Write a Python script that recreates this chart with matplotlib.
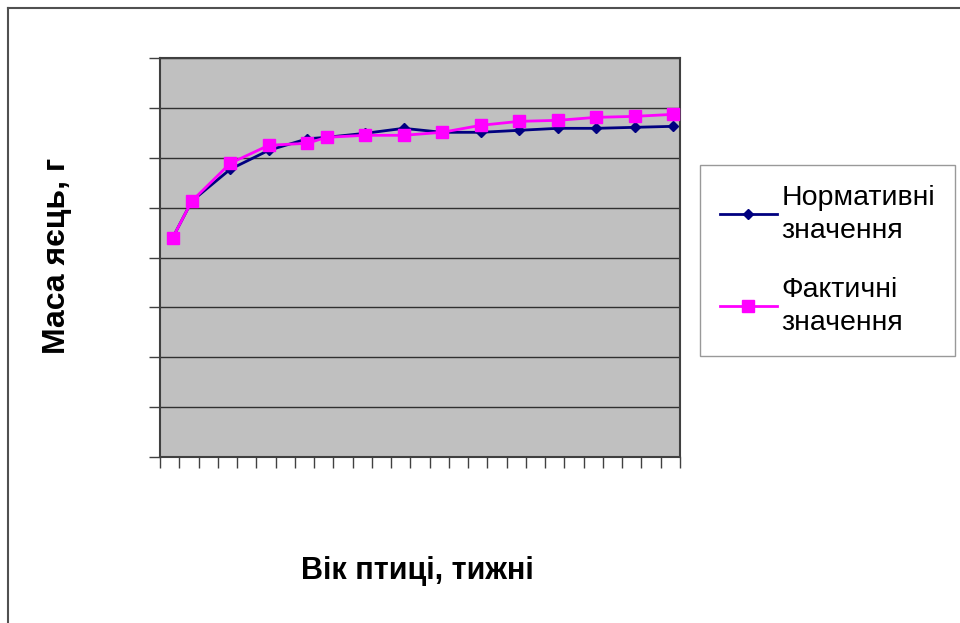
import matplotlib

matplotlib.use("Agg")
import matplotlib.pyplot as plt
from matplotlib.lines import Line2D
import numpy as np

plt.rcParams["font.family"] = ["Liberation Sans", "DejaVu Sans"]

# age of hens, weeks (category positions on the axis)
weeks = [21, 22, 24, 26, 28, 29, 31, 33, 35, 37, 39, 41, 43, 45, 47]
# egg mass, g
normative = [43.9, 51.3, 57.7, 61.5, 63.8, 64.1, 64.9, 65.9, 65.1, 65.1, 65.5, 65.9, 65.9, 66.1, 66.3]
actual = [43.9, 51.3, 58.9, 62.5, 62.9, 64.1, 64.5, 64.5, 65.1, 66.5, 67.3, 67.5, 68.1, 68.3, 68.7]

label_norm = "Нормативні\nзначення"
label_fact = "Фактичні\nзначення"

fig = plt.figure(figsize=(9.6, 6.23), dpi=100)
ax = fig.add_axes([160 / 960, 1 - 457 / 623, 520 / 960, 399 / 623])

ax.set_facecolor("#c0c0c0")
for side in ax.spines.values():
    side.set_color("#404040")
    side.set_linewidth(1.5)

ax.set_ylim(0, 80)
ax.set_yticks(np.arange(0, 81, 10))
ax.yaxis.grid(True, color="#303030", linewidth=1)
ax.set_axisbelow(True)
ax.set_yticklabels([])

ax.set_xlim(20.35, 47.35)
ax.set_xticks(np.arange(20.35, 47.4, 1.0))
ax.set_xticklabels([])
ax.tick_params(axis="both", direction="out", length=8, color="#404040", width=1)

ax.plot(weeks, normative, color="#000080", linewidth=2, marker="D", markersize=5,
        label=label_norm, zorder=3)
ax.plot(weeks, actual, color="#ff00ff", linewidth=2, marker="s", markersize=8.5,
        label=label_fact, zorder=4)

ax.set_ylabel("Маса яєць, г", fontsize=23, fontweight="bold", labelpad=0)
ax.yaxis.set_label_coords(-88 / 520, 0.505)
ax.set_xlabel("Вік птиці, тижні", fontsize=22, fontweight="bold")
ax.xaxis.set_label_coords(257 / 520, -99 / 399)

leg = fig.legend(loc="upper left", bbox_to_anchor=(700 / 960, 1 - 165 / 623),
                 fontsize=20.5, frameon=True, fancybox=False, borderaxespad=0,
                 handlelength=2.0, handletextpad=0.15, labelspacing=1.15,
                 borderpad=0.7)
for txt in leg.get_texts():
    txt.set_linespacing(1.35)
leg.get_frame().set_edgecolor("#808080")
leg.get_frame().set_linewidth(1)

# outer chart border (partly cropped in the reference)
fig.add_artist(Line2D([8 / 960, 8 / 960], [0, 1 - 8 / 623], color="#505050", linewidth=1.5))
fig.add_artist(Line2D([8 / 960, 1], [1 - 8 / 623, 1 - 8 / 623], color="#505050", linewidth=1.5))

fig.savefig("out.png", dpi=100)
plt.close(fig)
